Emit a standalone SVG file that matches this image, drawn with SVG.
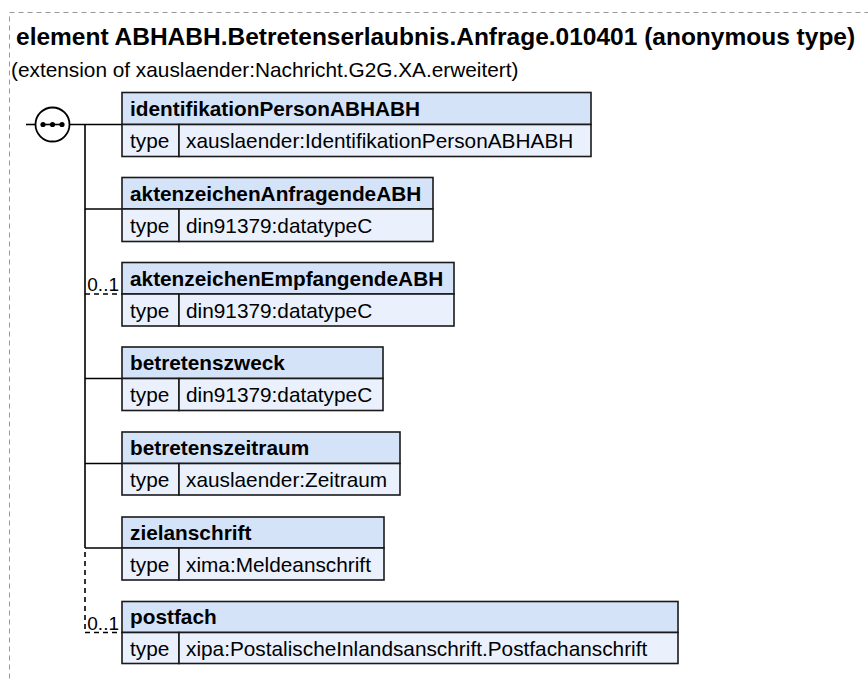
<svg xmlns="http://www.w3.org/2000/svg" width="868" height="682" viewBox="0 0 868 682">
<style>
text{font-family:"Liberation Sans",Arial,sans-serif;fill:#000}
.title{font-size:24.5px;font-weight:bold}
.sub{font-size:20.8px}
.hd{fill:#d5e3f8;stroke:#1a1a1a;stroke-width:1.6}
.tr{fill:#eaf1fc;stroke:#1a1a1a;stroke-width:1.6}
.hn{font-size:20.8px;font-weight:bold}
.tn{font-size:20.8px}
.card{font-size:19px}
.ln{stroke:#000;stroke-width:1.6;fill:none}
.dl{stroke:#000;stroke-width:1.6;fill:none;stroke-dasharray:5,4}
</style>
<rect x="9.5" y="12.5" width="900" height="720" fill="none" stroke="#999" stroke-width="1" stroke-dasharray="5,4"/>
<text class="title" x="16" y="45">element ABHABH.Betretenserlaubnis.Anfrage.010401 (anonymous type)</text>
<text class="sub" x="11" y="77">(extension of xauslaender:Nachricht.G2G.XA.erweitert)</text>
<g id="sequence">
<line class="ln" x1="26" y1="124.5" x2="35.5" y2="124.5"/>
<circle cx="52.5" cy="124.5" r="17" fill="#fff" stroke="#000" stroke-width="1.8"/>
<line class="ln" x1="42.5" y1="124.5" x2="62.5" y2="124.5"/>
<circle cx="43" cy="124.5" r="2.6"/>
<circle cx="52.5" cy="124.5" r="2.6"/>
<circle cx="62" cy="124.5" r="2.6"/>
</g>
<g id="connectors">
<line class="ln" x1="69.5" y1="124.5" x2="122" y2="124.5"/>
<line class="ln" x1="85" y1="124.5" x2="85" y2="548"/>
<line class="dl" x1="85" y1="552" x2="85" y2="632.5"/>
<line class="ln" x1="85" y1="209" x2="122" y2="209"/>
<line class="dl" x1="85" y1="294" x2="122" y2="294"/>
<line class="ln" x1="85" y1="378.5" x2="122" y2="378.5"/>
<line class="ln" x1="85" y1="463.5" x2="122" y2="463.5"/>
<line class="ln" x1="85" y1="548" x2="122" y2="548"/>
<line class="dl" x1="85" y1="632.5" x2="122" y2="632.5"/>
<text class="card" x="119" y="291" text-anchor="end">0..1</text>
<text class="card" x="119" y="629.5" text-anchor="end">0..1</text>
</g>
<g id="identifikationPersonABHABH">
<rect class="hd" x="122" y="92.5" width="469" height="32"/>
<rect class="tr" x="122" y="124.5" width="57" height="32"/>
<rect class="tr" x="179" y="124.5" width="412" height="32"/>
<text class="hn" x="130" y="116">identifikationPersonABHABH</text>
<text class="tn" x="130" y="148">type</text>
<text class="tn" x="186" y="148">xauslaender:IdentifikationPersonABHABH</text>
</g>
<g id="aktenzeichenAnfragendeABH">
<rect class="hd" x="122" y="177.5" width="311" height="31.5"/>
<rect class="tr" x="122" y="209" width="57" height="32.5"/>
<rect class="tr" x="179" y="209" width="254" height="32.5"/>
<text class="hn" x="130" y="200.5">aktenzeichenAnfragendeABH</text>
<text class="tn" x="130" y="232.5">type</text>
<text class="tn" x="186" y="232.5">din91379:datatypeC</text>
</g>
<g id="aktenzeichenEmpfangendeABH">
<rect class="hd" x="122" y="262.5" width="332" height="31.5"/>
<rect class="tr" x="122" y="294" width="57" height="32"/>
<rect class="tr" x="179" y="294" width="275" height="32"/>
<text class="hn" x="130" y="285.5">aktenzeichenEmpfangendeABH</text>
<text class="tn" x="130" y="317.5">type</text>
<text class="tn" x="186" y="317.5">din91379:datatypeC</text>
</g>
<g id="betretenszweck">
<rect class="hd" x="122" y="347" width="261" height="31.5"/>
<rect class="tr" x="122" y="378.5" width="57" height="32"/>
<rect class="tr" x="179" y="378.5" width="204" height="32"/>
<text class="hn" x="130" y="370">betretenszweck</text>
<text class="tn" x="130" y="402">type</text>
<text class="tn" x="186" y="402">din91379:datatypeC</text>
</g>
<g id="betretenszeitraum">
<rect class="hd" x="122" y="432" width="278" height="31.5"/>
<rect class="tr" x="122" y="463.5" width="57" height="31.5"/>
<rect class="tr" x="179" y="463.5" width="221" height="31.5"/>
<text class="hn" x="130" y="455">betretenszeitraum</text>
<text class="tn" x="130" y="486.5">type</text>
<text class="tn" x="186" y="486.5">xauslaender:Zeitraum</text>
</g>
<g id="zielanschrift">
<rect class="hd" x="122" y="517" width="262" height="31"/>
<rect class="tr" x="122" y="548" width="57" height="32"/>
<rect class="tr" x="179" y="548" width="205" height="32"/>
<text class="hn" x="130" y="539.5">zielanschrift</text>
<text class="tn" x="130" y="571.5">type</text>
<text class="tn" x="186" y="571.5">xima:Meldeanschrift</text>
</g>
<g id="postfach">
<rect class="hd" x="122" y="601.5" width="556" height="31"/>
<rect class="tr" x="122" y="632.5" width="57" height="31"/>
<rect class="tr" x="179" y="632.5" width="499" height="31"/>
<text class="hn" x="130" y="624">postfach</text>
<text class="tn" x="130" y="655.5">type</text>
<text class="tn" x="186" y="655.5">xipa:PostalischeInlandsanschrift.Postfachanschrift</text>
</g>
</svg>
